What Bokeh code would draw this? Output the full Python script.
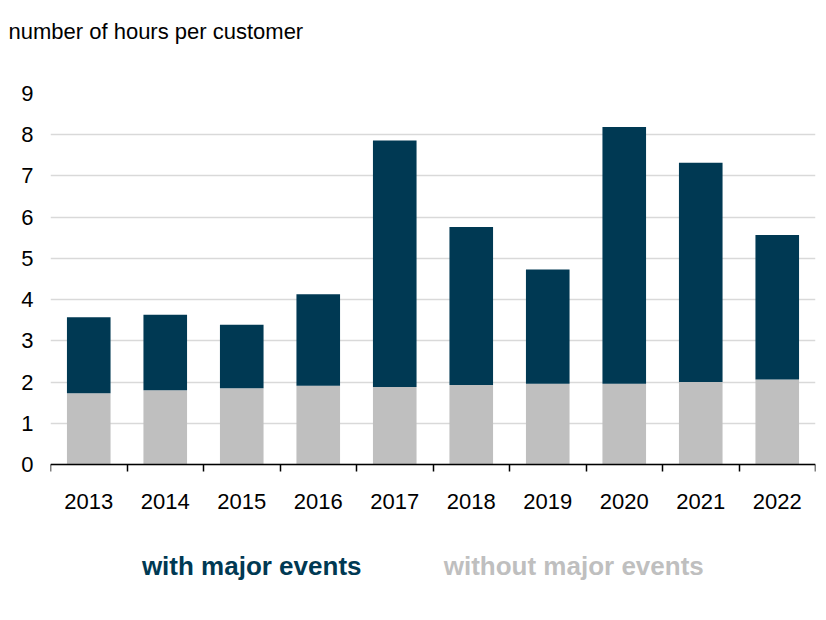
from bokeh.plotting import figure
from bokeh.models import FixedTicker, Range1d, Label, Title
from bokeh.embed import file_html
from bokeh.resources import INLINE

years = [2013, 2014, 2015, 2016, 2017, 2018, 2019, 2020, 2021, 2022]
with_major = [3.57, 3.63, 3.39, 4.13, 7.86, 5.76, 4.73, 8.19, 7.32, 5.57]
without_major = [1.73, 1.80, 1.85, 1.91, 1.88, 1.93, 1.96, 1.96, 2.00, 2.06]
y_ticks = [0, 1, 2, 3, 4, 5, 6, 7, 8, 9]
title_text = "number of hours per customer"
legend_with = "with major events"
legend_without = "without major events"

NAVY = "#003953"
GRAY = "#bfbfbf"
FONT = "Liberation Sans"

p = figure(width=818, height=612, output_backend="svg", toolbar_location=None,
           x_range=Range1d(years[0] - 0.5, years[-1] + 0.5),
           y_range=Range1d(-3.3, 9),
           min_border_left=50, min_border_right=3, min_border_top=93, min_border_bottom=12)

p.title = None
p.add_layout(Title(text=" ", standoff=23, text_font_size="22px", text_font=FONT), "above")
p.add_layout(Title(text=title_text, align="left", offset=-42, standoff=0,
                   text_font_size="22px", text_font_style="normal", text_font=FONT,
                   text_color="#000000"), "above")

p.vbar(x=years, top=without_major, width=0.57, color=GRAY, line_color=None)
p.vbar(x=years, bottom=without_major, top=with_major, width=0.57, color=NAVY, line_color=None)

p.outline_line_color = None
p.xgrid.visible = False
p.ygrid.grid_line_color = "#d9d9d9"
p.ygrid.grid_line_width = 1.5

xa = p.xaxis[0]
xa.fixed_location = 0
xa.ticker = FixedTicker(ticks=years, minor_ticks=[y - 0.5 for y in years] + [years[-1] + 0.5])
xa.axis_line_color = "#000000"
xa.axis_line_width = 1.5
xa.major_tick_in = 0
xa.major_tick_out = 0
xa.minor_tick_in = 0
xa.minor_tick_out = 7
xa.minor_tick_line_color = "#000000"
xa.minor_tick_line_width = 1.5
xa.major_label_standoff = 23
xa.major_label_text_font = FONT
xa.major_label_text_font_size = "22px"
xa.major_label_text_color = "#000000"

ya = p.yaxis[0]
ya.ticker = FixedTicker(ticks=y_ticks)
ya.axis_line_color = None
ya.major_tick_line_color = None
ya.minor_tick_line_color = None
ya.major_tick_out = 0
ya.major_tick_in = 0
ya.major_label_standoff = 17
ya.major_label_text_font = FONT
ya.major_label_text_font_size = "22px"
ya.major_label_text_color = "#000000"

p.add_layout(Label(x=2015.13, y=-2.46, text=legend_with,
                   text_align="center", text_baseline="middle", text_font=FONT,
                   text_font_size="26px", text_font_style="bold", text_color=NAVY))
p.add_layout(Label(x=2019.34, y=-2.46, text=legend_without,
                   text_align="center", text_baseline="middle", text_font=FONT,
                   text_font_size="26px", text_font_style="bold", text_color=GRAY))

open("out.html", "w").write(file_html(p, INLINE))
